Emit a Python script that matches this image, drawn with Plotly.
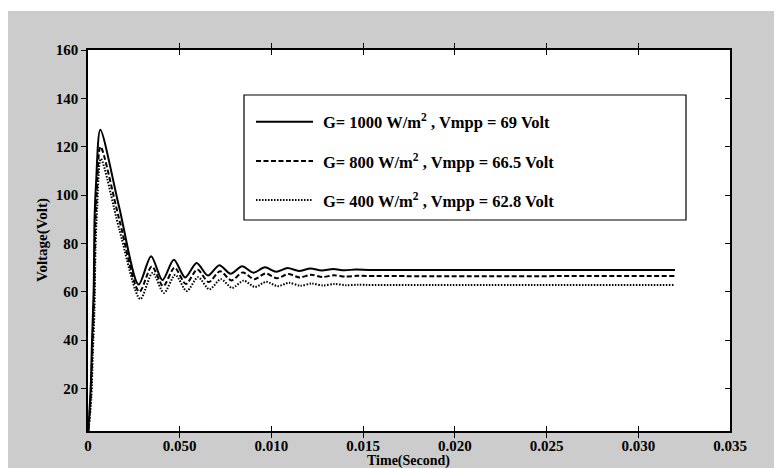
import plotly.graph_objects as go

# ---------------- data ----------------
t_1000 = [0, 0.00015, 0.00022, 0.00031, 0.00036, 0.00044, 0.00067, 0.0017, 0.00276,
          0.00344, 0.00406, 0.00468, 0.0053, 0.00592, 0.00654, 0.00716, 0.00778, 0.0084,
          0.00902, 0.00964, 0.01026, 0.01088, 0.0115, 0.01212, 0.01274, 0.01336, 0.01398,
          0.0146, 0.0155, 0.032]
v_1000 = [0, 21, 40, 61, 91, 105, 127, 95, 63,
          74.7, 64.8, 73.2, 65.9, 71.9, 66.7, 71.0, 67.4, 70.5,
          67.9, 70.1, 68.3, 69.8, 68.6, 69.6, 68.8, 69.4, 68.9,
          69.2, 69.0, 69.0]

t_800 = [0, 0.00016, 0.00024, 0.00033, 0.00039, 0.00047, 0.00068, 0.0017, 0.0028,
         0.00348, 0.0041, 0.00472, 0.00534, 0.00596, 0.00658, 0.0072, 0.00782, 0.00844,
         0.00906, 0.00968, 0.0103, 0.01092, 0.01154, 0.01216, 0.01278, 0.0134, 0.01402,
         0.0147, 0.0156, 0.032]
v_800 = [0, 18, 37, 57, 85, 100, 120, 90, 60,
         70.5, 62.3, 70.0, 63.2, 69.2, 64.0, 68.5, 64.7, 68.0,
         65.2, 67.6, 65.6, 67.3, 65.9, 67.0, 66.1, 66.8, 66.3,
         66.6, 66.5, 66.5]

t_400 = [0, 0.00018, 0.00026, 0.00035, 0.00041, 0.0005, 0.0007, 0.0017, 0.00285,
         0.00352, 0.00414, 0.00476, 0.00538, 0.006, 0.00662, 0.00724, 0.00786, 0.00848,
         0.0091, 0.00972, 0.01034, 0.01096, 0.01158, 0.0122, 0.01282, 0.01344, 0.01406,
         0.0147, 0.0156, 0.032]
v_400 = [0, 16, 34, 52, 78, 95, 115, 86, 57,
         67.8, 59.5, 67.0, 60.3, 66.0, 61.0, 65.2, 61.6, 64.6,
         62.0, 64.1, 62.3, 63.7, 62.5, 63.4, 62.6, 63.2, 62.7,
         62.9, 62.8, 62.8]

x_tickvals = [0, 0.005, 0.010, 0.015, 0.020, 0.025, 0.030, 0.035]
x_ticktext = ["0", "0.050", "0.010", "0.015", "0.020", "0.025", "0.030", "0.035"]
y_tickvals = [20, 40, 60, 80, 100, 120, 140, 160]

legend_labels = [
    "G= 1000 W/m<sup>2</sup> , Vmpp = 69 Volt",
    "G= 800 W/m<sup>2</sup> , Vmpp = 66.5 Volt",
    "G= 400 W/m<sup>2</sup> , Vmpp = 62.8 Volt",
]

# ---------------- figure ----------------
W, H = 782, 468
OFF = 8  # page body margin in the browser
L, R, T, B = 88, 730, 50, 431  # plot area in window pixels


def px_x(p):
    return (p - L) / (R - L)


def px_y(p):
    return (B - p) / (B - T)


FONT = "Liberation Serif"
dashes = ["solid", "5px,2.5px", "1.5px,1.5px"]

fig = go.Figure()
for tt, vv, d, name in [(t_1000, v_1000, dashes[0], legend_labels[0]),
                        (t_800, v_800, dashes[1], legend_labels[1]),
                        (t_400, v_400, dashes[2], legend_labels[2])]:
    fig.add_trace(go.Scatter(x=tt, y=vv, mode="lines", name=name, showlegend=False,
                             line=dict(color="black", width=2, dash=d,
                                       shape="spline", smoothing=0.8)))

# dummy trace for right-hand axis
fig.add_trace(go.Scatter(x=[0], y=[-100], yaxis="y2", showlegend=False,
                         mode="markers", hoverinfo="skip"))

tickfont = dict(family=FONT, size=15, color="black", weight="bold")

fig.update_layout(
    width=W - OFF, height=H - OFF,
    margin=dict(l=L - OFF, r=W - R, t=T - OFF, b=H - B, pad=0),
    paper_bgcolor="#cccccc",
    plot_bgcolor="white",
    showlegend=False,
    xaxis=dict(range=[0, 0.035], tickvals=x_tickvals, ticktext=x_ticktext,
               ticks="inside", ticklen=5, tickcolor="black", tickwidth=1,
               showline=True, linecolor="black", linewidth=1.5, mirror="allticks",
               showgrid=False, zeroline=False, tickfont=tickfont),
    yaxis=dict(range=[2.4, 160], tickvals=y_tickvals,
               ticks="outside", ticklen=5, tickcolor="black", tickwidth=1,
               showline=True, linecolor="black", linewidth=1.5, mirror=True,
               showgrid=False, zeroline=False, tickfont=tickfont),
    yaxis2=dict(range=[2.4, 160], tickvals=y_tickvals, overlaying="y", side="right",
                ticks="inside", ticklen=5, tickcolor="black", showticklabels=False,
                showline=False, showgrid=False, zeroline=False),
)

shapes = []
# white strip at the top of the frame
shapes.append(dict(type="rect", xref="paper", yref="paper", x0=px_x(0), x1=px_x(W),
                   y0=px_y(11), y1=px_y(0), fillcolor="white", line_width=0, layer="below"))
# legend box
shapes.append(dict(type="rect", xref="paper", yref="paper", x0=px_x(244), x1=px_x(686),
                   y0=px_y(220), y1=px_y(95), fillcolor="white",
                   line=dict(color="black", width=1.2)))
legend_y = [121.7, 161, 200]
annotations = []
for i, ly in enumerate(legend_y):
    shapes.append(dict(type="line", xref="paper", yref="paper", x0=px_x(256), x1=px_x(313),
                       y0=px_y(ly), y1=px_y(ly),
                       line=dict(color="black", width=2, dash=dashes[i])))
    annotations.append(dict(xref="paper", yref="paper", x=px_x(321), y=px_y(ly),
                            xanchor="left", yanchor="middle", showarrow=False,
                            text=legend_labels[i],
                            font=dict(family=FONT, size=16.5, color="black", weight="bold")))

annotations.append(dict(xref="paper", yref="paper", x=px_x(42), y=px_y(240),
                        xanchor="center", yanchor="middle", showarrow=False, textangle=-90,
                        text="Voltage(Volt)",
                        font=dict(family=FONT, size=15, color="black", weight="bold")))
annotations.append(dict(xref="paper", yref="paper", x=px_x(408), y=px_y(461),
                        xanchor="center", yanchor="middle", showarrow=False,
                        text="Time(Second)",
                        font=dict(family=FONT, size=14, color="black", weight="bold")))

fig.update_layout(shapes=shapes, annotations=annotations)
fig.write_html("out.html")
